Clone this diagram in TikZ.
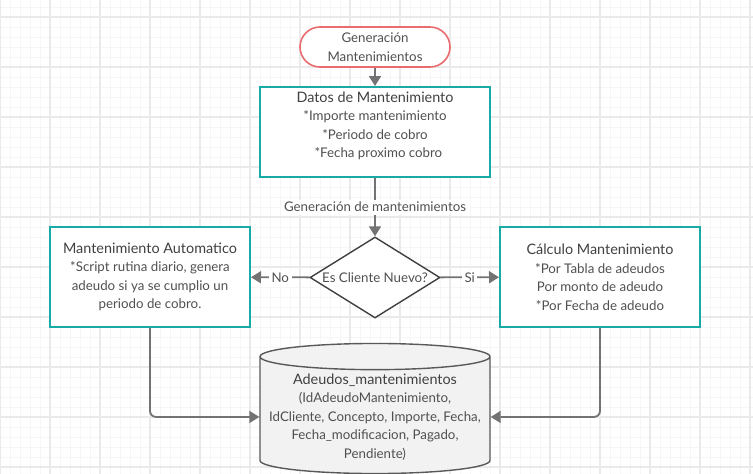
\documentclass[tikz,border=0pt]{standalone}
\usepackage{fontspec}
\setmainfont{Lato}
\usepackage{tikz}
\usetikzlibrary{shapes,arrows,arrows.meta,positioning,calc}
\definecolor{gridlight}{RGB}{246,246,246}
\definecolor{gridmid}{RGB}{234,234,234}
\definecolor{tealedge}{RGB}{24,170,167}
\definecolor{coraledge}{RGB}{234,108,110}
\definecolor{flowgrey}{RGB}{115,115,115}
\definecolor{inkgrey}{RGB}{80,80,80}
\definecolor{titlegrey}{RGB}{64,64,64}
\definecolor{dbfill}{RGB}{242,242,242}
\newcommand{\boxtitle}[1]{{\fontsize{14.4}{18}\selectfont\color{titlegrey}#1}}

\tikzset{
  basetext/.style={text=inkgrey, align=center, font=\fontsize{13.3}{18.5}\selectfont},
  startpill/.style={basetext, draw=coraledge, line width=1.6pt, fill=white, rounded corners=20pt, minimum width=150pt, minimum height=40pt},
  procbox/.style={basetext, draw=tealedge, line width=2pt, fill=white, minimum width=200pt, minimum height=100pt},
  decision/.style={basetext, diamond, draw=black!75, line width=1.4pt, fill=white, inner sep=0pt, aspect=1.6, minimum width=130pt, minimum height=81pt},
  store/.style={basetext, cylinder, shape border rotate=90, aspect=0.12, draw=black!65, line width=1.4pt, fill=dbfill, minimum width=230pt, minimum height=113pt},
  flow/.style={draw=flowgrey, line width=1.8pt, -{Triangle[length=10pt,width=12pt]}},
  flowlabel/.style={fill=white, text=inkgrey, inner sep=2.5pt, font=\fontsize{13.3}{15}\selectfont}
}

\begin{document}
\begin{tikzpicture}[x=1pt, y=-1pt]
  \useasboundingbox (0,0) rectangle (753,474);
  \fill[white] (0,0) rectangle (753,474);
  \begin{scope}[shift={(0,7)}]
    \draw[gridlight, line width=1pt, step=10pt] (0,-7) grid (753,467);
  \end{scope}
  \begin{scope}[shift={(0,17)}]
    \draw[gridmid, line width=1.5pt, step=50pt] (0,-17) grid (753,457);
  \end{scope}

  \node[startpill] (start) at (375,47) {Generación\\Mantenimientos};
  \node[procbox, minimum width=230pt, minimum height=90pt, text depth=15pt] (datos) at (375,132)
    {\boxtitle{Datos de Mantenimiento}\\ *Importe mantenimiento\\ *Periodo de cobro\\ \ \ *Fecha proximo cobro};
  \node[decision] (nuevo) at (375,277.5) {Es Cliente Nuevo?};
  \node[procbox] (auto) at (150,277) {\boxtitle{Mantenimiento Automatico}\\ *Script rutina diario, genera\\ adeudo si ya se cumplio un\\ periodo de cobro.};
  \node[procbox] (calc) at (600,277) {\boxtitle{Cálculo Mantenimiento}\\ *Por Tabla de adeudos\\ Por monto de adeudo\\ *Por Fecha de adeudo};
  \node[store, anchor=shape center] (db) at (375,408.5) {\boxtitle{Adeudos\_mantenimientos}\\ (IdAdeudoMantenimiento,\\ IdCliente, Concepto, Importe, Fecha,\\ Fecha\_modificacion, Pagado,\\ Pendiente)};

  \draw[flow] (start) -- (datos);
  \draw[flow] (datos) -- node[flowlabel] {Generación de mantenimientos} (nuevo);
  \draw[flow] (nuevo) -- node[flowlabel] {No} (auto);
  \draw[flow] (nuevo) -- node[flowlabel] {Si} (calc);
  \draw[flow, rounded corners=6pt] (auto.south) |- (db.west);
  \draw[flow, rounded corners=6pt] (calc.south) |- (db.east);
\end{tikzpicture}
\end{document}
